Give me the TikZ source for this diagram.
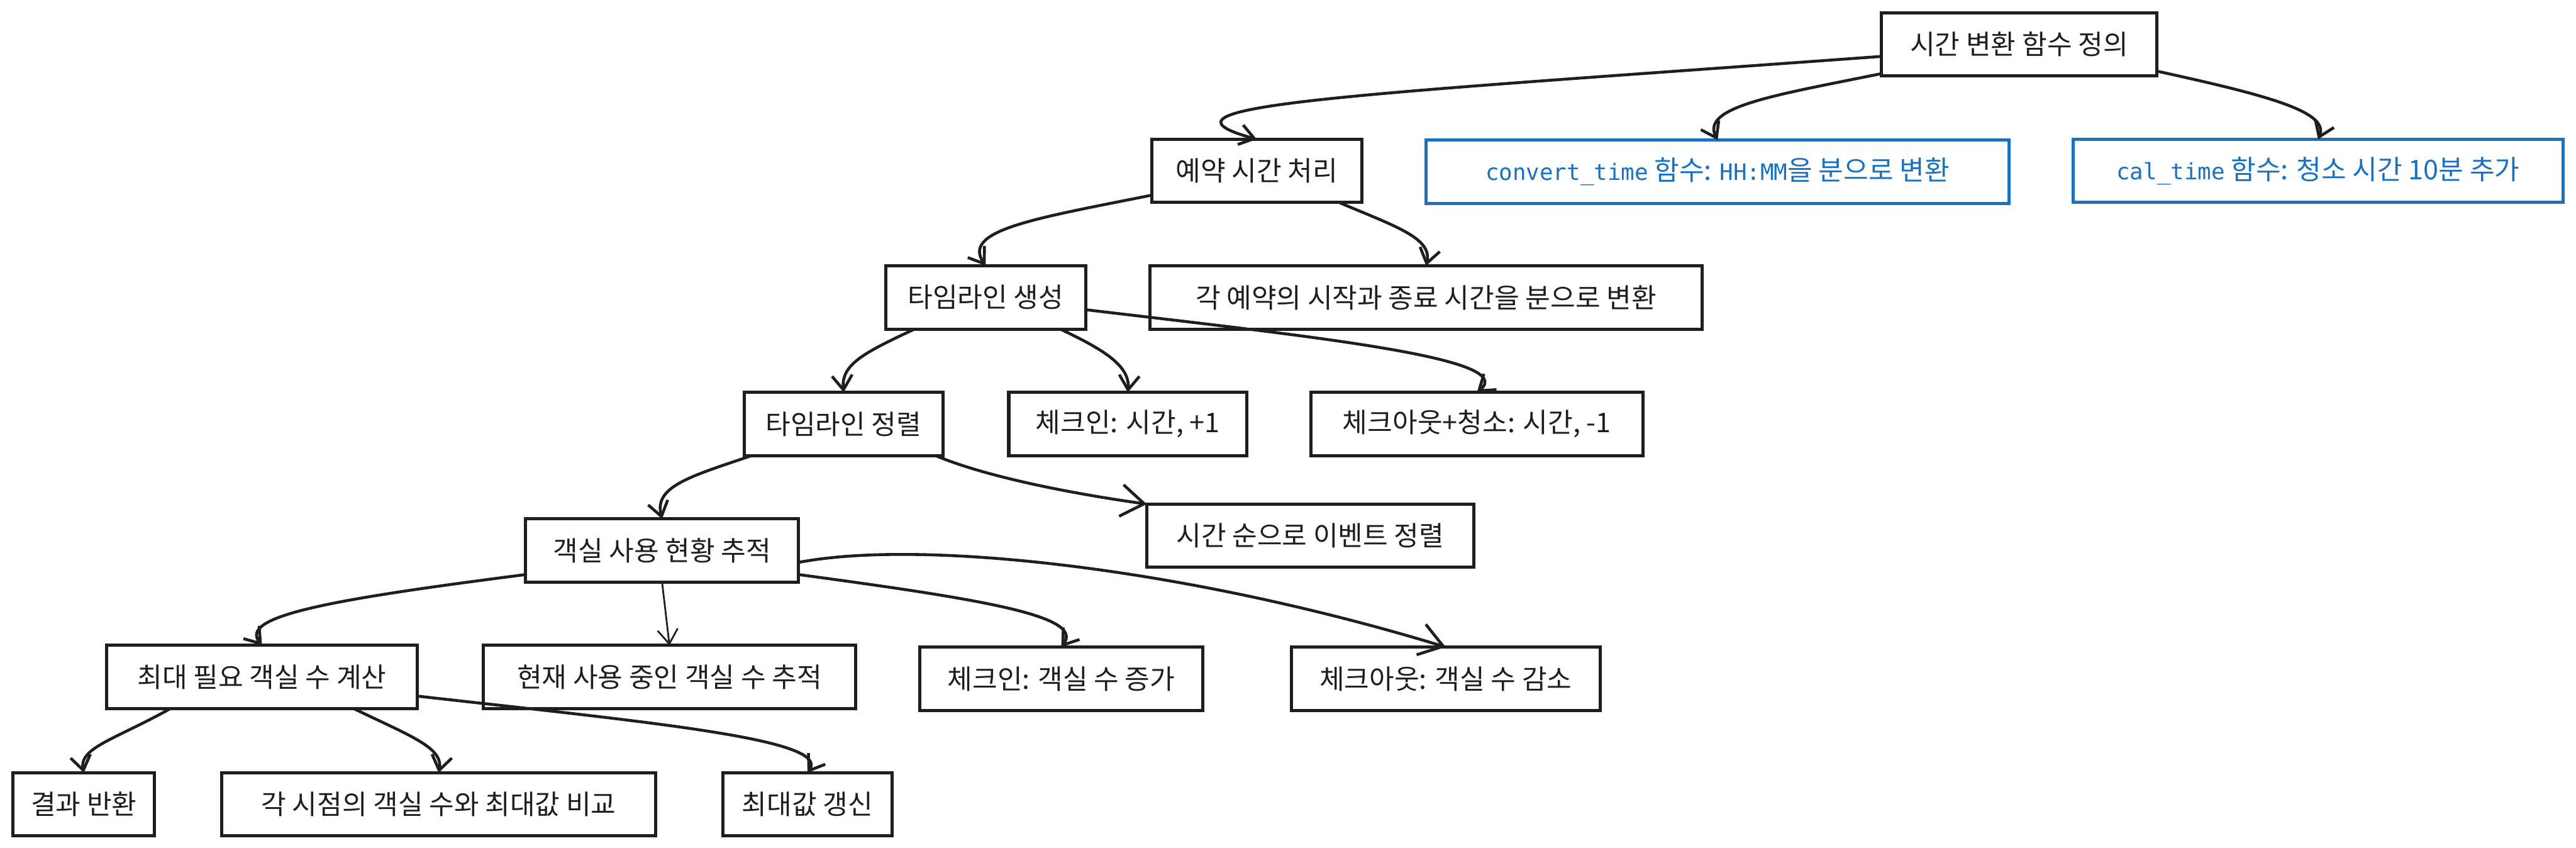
\documentclass[tikz,border=0pt]{standalone}
\usepackage{fontspec}
\setmainfont{Noto Sans CJK KR}
\setmonofont{DejaVu Sans Mono}
\usepackage{xcolor}
\usepackage{tikz}
\usetikzlibrary{arrows.meta}
\definecolor{inkblack}{HTML}{1E1E1E}
\definecolor{inkblue}{HTML}{1971C2}
\newcommand{\codetxt}[1]{{\fontsize{7.8}{10}\ttfamily #1}}

\begin{document}
\begin{tikzpicture}[
    x=0.02cm, y=-0.02cm,
    box/.style={draw=inkblack, line width=1.1pt, rectangle, minimum height=0.77cm,
      inner sep=0pt, outer sep=0pt, align=center, fill=white, text=inkblack,
      font=\fontsize{9.4}{11}\selectfont},
    bluebox/.style={box, draw=inkblue, text=inkblue},
    arrow/.style={draw=inkblack, line width=1pt, line cap=round,
      -{Straight Barb[length=5pt,width=7pt]}},
    bigarrow/.style={arrow, -{Straight Barb[length=8pt,width=11pt]}}
]
\fill[white] (0,0) rectangle (1568,516);
\useasboundingbox (0,0) rectangle (1568,516);

% top level
\node[box, minimum width=3.36cm] (timedef) at (1229,27) {시간 변환 함수 정의};
\node[box, minimum width=2.56cm] (reserve) at (765,104) {예약 시간 처리};
\node[bluebox, minimum width=7.10cm] (convert) at (1045.5,104.5) {\codetxt{convert\_time} 함수: \codetxt{HH:MM}을 분으로 변환};
\node[bluebox, minimum width=5.96cm] (caltime) at (1411,104) {\codetxt{cal\_time} 함수: 청소 시간 10분 추가};

% timeline
\node[box, minimum width=2.44cm] (mktl) at (600,181) {타임라인 생성};
\node[box, minimum width=6.72cm] (eachres) at (868,181) {각 예약의 시작과 종료 시간을 분으로 변환};
\node[box, minimum width=2.42cm] (sorttl) at (513.5,258) {타임라인 정렬};
\node[box, minimum width=2.90cm] (ckin) at (686.5,258) {체크인: 시간, +1};
\node[box, minimum width=4.04cm] (ckout) at (899,258) {체크아웃+청소: 시간, -1};
\node[box, minimum width=3.98cm] (evsort) at (797.5,326) {시간 순으로 이벤트 정렬};

% room tracking
\node[box, minimum width=3.32cm] (track) at (403,335) {객실 사용 현황 추적};
\node[box, minimum width=3.78cm] (maxneed) at (159.5,412) {최대 필요 객실 수 계산};
\node[box, minimum width=4.54cm] (curuse) at (407.5,412) {현재 사용 중인 객실 수 추적};
\node[box, minimum width=3.44cm] (ckinroom) at (646,413) {체크인: 객실 수 증가};
\node[box, minimum width=3.76cm] (ckoutroom) at (880,413) {체크아웃: 객실 수 감소};

% result
\node[box, minimum width=1.72cm] (result) at (51,489.5) {결과 반환};
\node[box, minimum width=5.28cm] (compare) at (267,489.5) {각 시점의 객실 수와 최대값 비교};
\node[box, minimum width=2.06cm] (update) at (491.5,489.5) {최대값 갱신};

\draw[arrow] (timedef.185) .. controls (820,58) and (690,64) .. (reserve.north);
\draw[arrow] (timedef.192) .. controls (1080,58) and (1035,65) .. (convert.north);
\draw[arrow] (timedef.349) .. controls (1380,58) and (1418,68) .. (caltime.north);

\draw[arrow] (reserve.193) .. controls (630,133) and (585,140) .. (mktl.north);
\draw[arrow] (reserve.-21) .. controls (850,138) and (872,145) .. (eachres.north);

\draw[arrow] (mktl.204) .. controls (525,215) and (512,222) .. (sorttl.north);
\draw[arrow] (mktl.-23) .. controls (670,212) and (688,222) .. (ckin.north);
\draw[arrow] (mktl.-7) .. controls (800,205) and (925,218) .. (ckout.north);

\draw[bigarrow] (sorttl.-19) .. controls (600,290) and (650,300) .. (evsort.north west);
\draw[arrow] (sorttl.199) .. controls (420,290) and (398,296) .. (track.north);

\draw[arrow] (track.190) .. controls (200,365) and (145,375) .. (maxneed.north);
\draw[arrow, line width=0.6pt] (track.south) -- (curuse.north);
\draw[arrow] (track.-10) .. controls (600,365) and (660,375) .. (ckinroom.north);
\draw[bigarrow] (track.-5) .. controls (560,328) and (720,345) .. (ckoutroom.north);

\draw[arrow] (maxneed.199) .. controls (70,450) and (48,455) .. (result.north);
\draw[arrow] (maxneed.-19) .. controls (250,448) and (270,455) .. (compare.north);
\draw[arrow] (maxneed.-7) .. controls (400,440) and (505,450) .. (update.north);
\end{tikzpicture}
\end{document}
